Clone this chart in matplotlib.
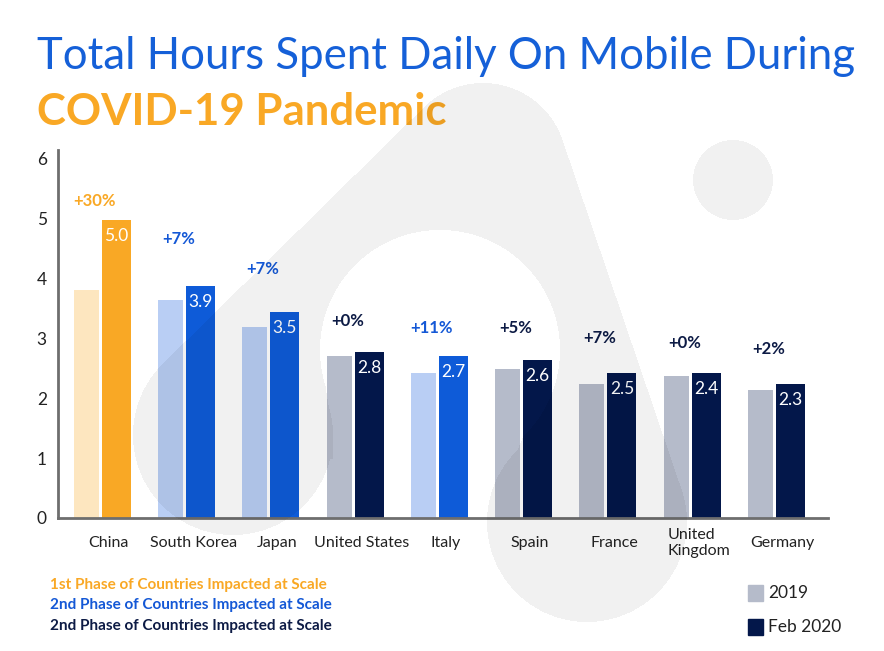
import numpy as np
import matplotlib
matplotlib.use("Agg")
import matplotlib.pyplot as plt
from matplotlib.path import Path
from matplotlib.patches import Rectangle

# --- data ---
countries = ["China", "South Korea", "Japan", "United States", "Italy",
             "Spain", "France", "United\nKingdom", "Germany"]
hours_2019 = [3.81, 3.64, 3.19, 2.71, 2.42, 2.49, 2.24, 2.37, 2.14]
hours_2020 = [4.98, 3.88, 3.44, 2.78, 2.71, 2.64, 2.42, 2.42, 2.24]
labels_2020 = ["5.0", "3.9", "3.5", "2.8", "2.7", "2.6", "2.5", "2.4", "2.3"]
growth = ["+30%", "+7%", "+7%", "+0%", "+11%", "+5%", "+7%", "+0%", "+2%"]
phase = [0, 1, 1, 2, 1, 2, 2, 2, 2]
phase_notes = ["1st Phase of Countries Impacted at Scale",
               "2nd Phase of Countries Impacted at Scale",
               "2nd Phase of Countries Impacted at Scale"]
series_names = ["2019", "Feb 2020"]
yticks = [0, 1, 2, 3, 4, 5, 6]

# layout only: height at which each growth label sits
growth_y = [5.30, 4.67, 4.16, 3.29, 3.18, 3.18, 3.01, 2.93, 2.83]

light_cols = ["#FDE6BF", "#B9CEF4", "#B5BBCA"]
dark_cols = ["#F9A825", "#0E5BD8", "#03174A"]
note_cols = ["#F9A825", "#1458D6", "#0D1B45"]
FONT = "Lato"

W, H = 884, 651


def fx(px):
    return px / W


def fy(py):
    return 1 - py / H


fig = plt.figure(figsize=(W / 100, H / 100), dpi=100)
fig.patch.set_facecolor("white")

ax = fig.add_axes([fx(58), fy(518), (828 - 58) / W, (518 - 150) / H])
ax.set_facecolor("none")

x = np.arange(len(countries))
ax.bar(x - 0.166, hours_2019, width=0.297,
       color=[light_cols[p] for p in phase], zorder=2)
ax.bar(x + 0.19, hours_2020, width=0.344,
       color=[dark_cols[p] for p in phase], zorder=2)

for i in range(len(countries)):
    ax.text(x[i] + 0.19, hours_2020[i] - 0.27, labels_2020[i], color="white",
            ha="center", va="center", fontsize=12.5, family=FONT, zorder=3)
    ax.text(x[i] - 0.07, growth_y[i], growth[i], color=note_cols[phase[i]],
            ha="center", va="center", fontsize=12, fontweight="bold",
            family=FONT, zorder=3)

ax.set_xlim(-0.504, 8.636)
ax.set_ylim(0, 6.15)
ax.set_yticks(yticks)
ax.set_yticklabels([str(t) for t in yticks], family=FONT, fontsize=12.5,
                   color="#222222")
ax.set_xticks(x + 0.1)
ax.set_xticklabels(countries, family=FONT, fontsize=11.5, color="#222222")
for lab in ax.get_xticklabels():
    lab.set_va("center")
    lab.set_multialignment("left")
ax.tick_params(axis="x", length=0, pad=18)
ax.tick_params(axis="y", length=0, pad=8)
for s in ["top", "right"]:
    ax.spines[s].set_visible(False)
for s in ["left", "bottom"]:
    ax.spines[s].set_color("#6E6E6E")
    ax.spines[s].set_linewidth(2)

# titles
fig.text(fx(37), fy(69), "Total Hours Spent Daily On Mobile During",
         family=FONT, fontsize=31.5, color="#1560D8", va="baseline")
fig.text(fx(37), fy(125), "COVID-19 Pandemic", family=FONT, fontsize=31.5,
         fontweight="bold", color="#F9A825", va="baseline")

# phase notes
for k, note in enumerate(phase_notes):
    fig.text(fx(50), fy(585 + 20.5 * k), note, family=FONT, fontsize=11,
             fontweight="bold", color=note_cols[k], va="center")

# series legend
for k, name in enumerate(series_names):
    yc = 593 + 34 * k
    fig.add_artist(Rectangle((fx(748), fy(yc + 8)), 15 / W, 16 / H,
                             transform=fig.transFigure,
                             color=[light_cols[2], dark_cols[2]][k]))
    fig.text(fx(768), fy(yc), name, family=FONT, fontsize=12.5,
             color="#222222", va="center")

# translucent logo shape laid over everything
yy, xx = np.mgrid[0:H, 0:W] + 0.5


def disc(cx, cy, r):
    return (xx - cx) ** 2 + (yy - cy) ** 2 <= r ** 2


def hull(pts):
    pts = sorted(map(tuple, pts))

    def half(seq):
        out = []
        for p in seq:
            while len(out) >= 2 and ((out[-1][0] - out[-2][0]) * (p[1] - out[-2][1])
                                     - (out[-1][1] - out[-2][1]) * (p[0] - out[-2][0])) <= 0:
                out.pop()
            out.append(p)
        return out
    return half(pts)[:-1] + half(pts[::-1])[:-1]


circles = [(483, 167, 84), (233, 435, 100), (587, 522, 100)]
t = np.linspace(0, 2 * np.pi, 120, endpoint=False)
pts = np.vstack([np.c_[cx + r * np.cos(t), cy + r * np.sin(t)] for cx, cy, r in circles])
grid = np.c_[xx.ravel(), yy.ravel()]
in_hull = Path(hull(pts)).contains_points(grid).reshape(H, W)
above = yy < 435 + (xx - 233) * 87 / 354
notch = Path([(320, 350), (560, 350), (487, 522), (487, 700),
              (333, 700), (333, 435)]).contains_points(grid).reshape(H, W)
mask = in_hull & above & ~disc(440, 350, 120) & ~notch
mask |= disc(233, 435, 100) | disc(587, 522, 100) | disc(733, 180, 40)

overlay = np.zeros((H, W, 4))
overlay[..., 3] = mask * 0.055
fig.figimage(overlay, xo=0, yo=0, origin="upper", zorder=10)

fig.savefig("out.png", dpi=100)
